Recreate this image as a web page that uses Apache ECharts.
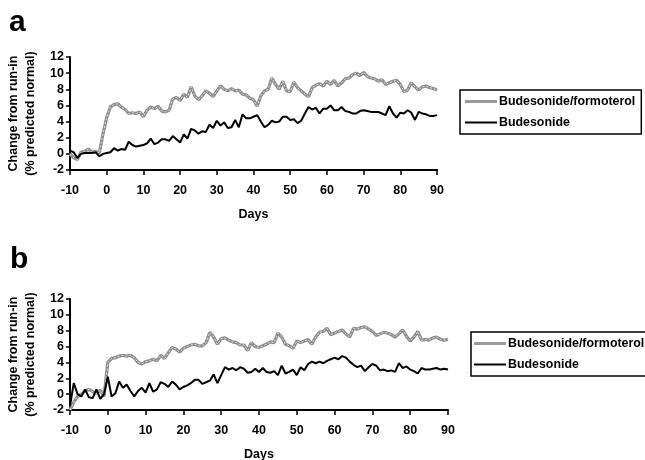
<!DOCTYPE html>
<html><head><meta charset="utf-8">
<script src="https://cdn.jsdelivr.net/npm/echarts@6/dist/echarts.min.js"></script>
<style>html,body{margin:0;padding:0;background:#fff}#c{width:645px;height:460px}</style>
</head><body><div id="c"></div>
<script>
const days = [];
for (let d = -10; d <= 90; d++) days.push(d);
const xTicks = [-10,0,10,20,30,40,50,60,70,80,90];
const yTicks = [-2,0,2,4,6,8,10,12];
const seriesNames = ['Budesonide/formoterol','Budesonide'];

const aBudForm = [0,-0.5,-0.7,0.2,0.3,0.6,0.2,0.3,0.1,2.5,4.5,5.8,6.1,6.2,5.8,5.5,5.0,5.1,5.0,5.2,4.6,5.4,5.8,5.6,5.9,5.3,5.2,5.4,6.8,7.0,6.6,7.4,7.0,8.3,7.2,6.7,7.2,7.8,7.5,7.1,7.8,8.4,8.0,7.8,8.1,7.8,7.9,7.4,7.3,6.9,6.7,5.9,7.2,7.8,8.0,9.4,8.6,8.0,9.0,7.8,7.7,8.9,8.2,7.8,7.4,7.1,8.2,8.5,8.7,8.4,9.0,8.6,9.1,8.4,8.8,9.3,9.4,9.8,10.0,9.7,10.1,9.6,9.4,9.3,9.0,9.2,8.6,8.8,9.0,9.1,8.6,7.7,7.9,8.8,8.3,7.9,8.3,8.4,8.2,8.1,7.9];
const aBud = [0.4,0.2,-0.5,0,0.1,0.1,0.1,0.2,-0.3,0,0.1,0.2,0.7,0.4,0.6,0.5,1.5,1.1,0.9,1.0,1.1,1.3,1.9,1.2,1.4,1.8,1.8,1.6,2.2,1.8,1.4,2.4,1.9,3.1,2.9,2.5,2.8,2.7,3.6,3.2,4.1,3.5,3.9,3.2,3.3,4.2,3.3,4.9,4.4,4.4,4.6,4.8,4.0,3.3,3.6,4.1,3.9,4.0,4.6,4.6,4.2,4.3,3.8,4.1,5.0,5.8,5.5,5.7,5.0,5.6,5.6,6.0,5.4,5.4,5.8,5.3,5.2,5.0,5.0,5.3,5.4,5.3,5.2,5.2,5.2,5.0,4.8,5.9,5.0,4.5,5.1,5.0,5.4,5.1,4.2,5.2,5.0,4.9,4.7,4.7,4.8];
const bBudForm = [-2,-1.0,-0.3,0,0.4,0.6,0.3,0.1,0.5,-0.3,4.0,4.5,4.6,4.8,4.9,4.8,4.9,4.6,4.0,3.8,4.1,4.2,4.4,4.2,4.9,4.5,5.2,5.9,5.7,5.3,5.8,6.0,6.2,6.3,6.1,6.1,6.5,7.8,7.2,6.3,7.0,7.1,6.8,6.6,6.5,6.2,6.2,5.5,6.5,6.0,5.9,6.1,6.3,6.6,6.5,7.7,7.2,6.3,6.1,5.8,6.7,6.5,6.7,6.9,6.3,7.2,7.8,7.9,8.3,7.5,7.7,7.9,8.1,7.6,7.2,8.3,8.2,8.4,8.5,8.2,7.9,7.4,7.6,7.8,7.7,7.5,7.2,7.6,8.1,7.3,6.7,7.2,7.9,6.8,6.9,6.8,7.1,7.2,6.9,6.8,6.9];
const bBud = [-1.5,1.4,0,-0.3,0.6,-0.4,-0.5,0.6,-0.6,0,2.2,-0.3,0.1,1.6,0.8,1.2,0.4,-0.3,0.4,0.8,0.2,1.4,0.3,0.6,1.5,1.3,0.9,1.6,1.2,0.6,0.9,1.1,1.4,1.8,1.8,1.3,1.5,1.7,2.5,1.4,2.4,3.4,3.1,3.3,3.0,3.4,3.2,2.7,2.8,3.2,2.8,3.3,2.8,2.7,2.9,2.4,3.6,2.6,2.8,3.1,2.4,3.4,3.0,3.8,4.1,3.9,4.1,3.9,4.2,4.4,4.6,4.4,4.8,4.6,4.1,3.7,3.4,3.6,2.9,3.4,3.8,3.6,3.0,3.1,2.9,3.0,2.8,3.9,3.3,3.5,3.1,2.9,2.6,3.3,3.1,3.1,3.2,3.3,3.1,3.2,3.1];

const F = 'Arial, "Liberation Sans", sans-serif';
const pair = (xs, ys) => xs.map((x, i) => [x, ys[i]]);

function axes(gi) {
  return {
    x: {
      type: 'value', gridIndex: gi, min: -10, max: 90, interval: 10,
      name: 'Days', nameLocation: 'middle', nameGap: 38,
      nameTextStyle: {fontFamily: F, fontWeight: 'bold', fontSize: 12.5, color: '#000'},
      axisLine: {onZero: false, lineStyle: {color: '#000', width: 2}},
      axisTick: {show: true, length: 5, lineStyle: {color: '#000', width: 1.5}},
      axisLabel: {fontFamily: F, fontWeight: 'bold', fontSize: 12.5, color: '#000', margin: 14,
        formatter: v => xTicks.includes(v) ? String(v) : ''},
      splitLine: {show: false}
    },
    y: {
      type: 'value', gridIndex: gi, min: -2, max: 12, interval: 2,
      name: 'Change from run-in\n(% predicted normal)', nameLocation: 'middle', nameGap: 31, nameRotate: 90,
      nameTextStyle: {fontFamily: F, fontWeight: 'bold', fontSize: 12.5, color: '#000', lineHeight: 17},
      axisLine: {show: true, onZero: false, lineStyle: {color: '#000', width: 2}},
      axisTick: {show: true, length: 4, lineStyle: {color: '#000', width: 1.5}},
      axisLabel: {fontFamily: F, fontWeight: 'bold', fontSize: 12.5, color: '#000', margin: 6,
        formatter: v => yTicks.includes(v) ? String(v) : ''},
      splitLine: {show: false}
    }
  };
}
const a0 = axes(0), a1 = axes(1);

function grayLine(name, data, xi) {
  return [
    {name: name, type: 'line', xAxisIndex: xi, yAxisIndex: xi, data: data, symbol: 'none',
     lineStyle: {color: '#8c8c8c', width: 3.2}, itemStyle: {color: '#8c8c8c'}, z: 2, animation: false},
    {name: name + ' ', type: 'line', xAxisIndex: xi, yAxisIndex: xi, data: data, symbol: 'none',
     lineStyle: {color: '#e6e6e6', width: 1, type: [2, 2]}, z: 3, animation: false, silent: true}
  ];
}
function blackLine(name, data, xi) {
  return {name: name, type: 'line', xAxisIndex: xi, yAxisIndex: xi, data: data, symbol: 'none',
    lineStyle: {color: '#000', width: 2}, itemStyle: {color: '#000'}, z: 4, animation: false};
}

const legendBase = {
  data: [
    {name: seriesNames[0], icon: 'path://M0,0L32,0L32,3L0,3Z', itemStyle: {color: '#9a9a9a'}},
    {name: seriesNames[1], icon: 'path://M0,0L32,0L32,2L0,2Z', itemStyle: {color: '#000'}}
  ],
  orient: 'vertical', borderColor: '#000', borderWidth: 1.5,
  itemGap: 8, itemWidth: 32, itemHeight: 3,
  textStyle: {fontFamily: F, fontWeight: 'bold', fontSize: 12.4, color: '#000', padding: [0, 0, 0, -3], lineHeight: 13}
};

const chart = echarts.init(document.getElementById('c'), null, {renderer: 'canvas'});
chart.setOption({
  backgroundColor: '#fff',
  animation: false,
  grid: [
    {left: 70, top: 57, width: 367, height: 113, containLabel: false, outerBoundsMode: 'none'},
    {left: 70, top: 299, width: 378, height: 111, containLabel: false, outerBoundsMode: 'none'}
  ],
  xAxis: [a0.x, a1.x],
  yAxis: [a0.y, a1.y],
  legend: [
    Object.assign({}, legendBase, {left: 460, top: 90, padding: [5, 6, 5, 5]}),
    Object.assign({}, legendBase, {left: 471, top: 332, padding: [5, 6, 5, 3]})
  ],
  graphic: [
    {type: 'text', left: 9, top: 8, style: {text: 'a', fontFamily: F, fontWeight: 'bold', fontSize: 30, fill: '#000'}},
    {type: 'text', left: 10, top: 245, style: {text: 'b', fontFamily: F, fontWeight: 'bold', fontSize: 30, fill: '#000'}}
  ],
  series: [
    ...grayLine(seriesNames[0], pair(days, aBudForm), 0),
    blackLine(seriesNames[1], pair(days, aBud), 0),
    ...grayLine(seriesNames[0], pair(days, bBudForm), 1),
    blackLine(seriesNames[1], pair(days, bBud), 1)
  ]
});
</script></body></html>
